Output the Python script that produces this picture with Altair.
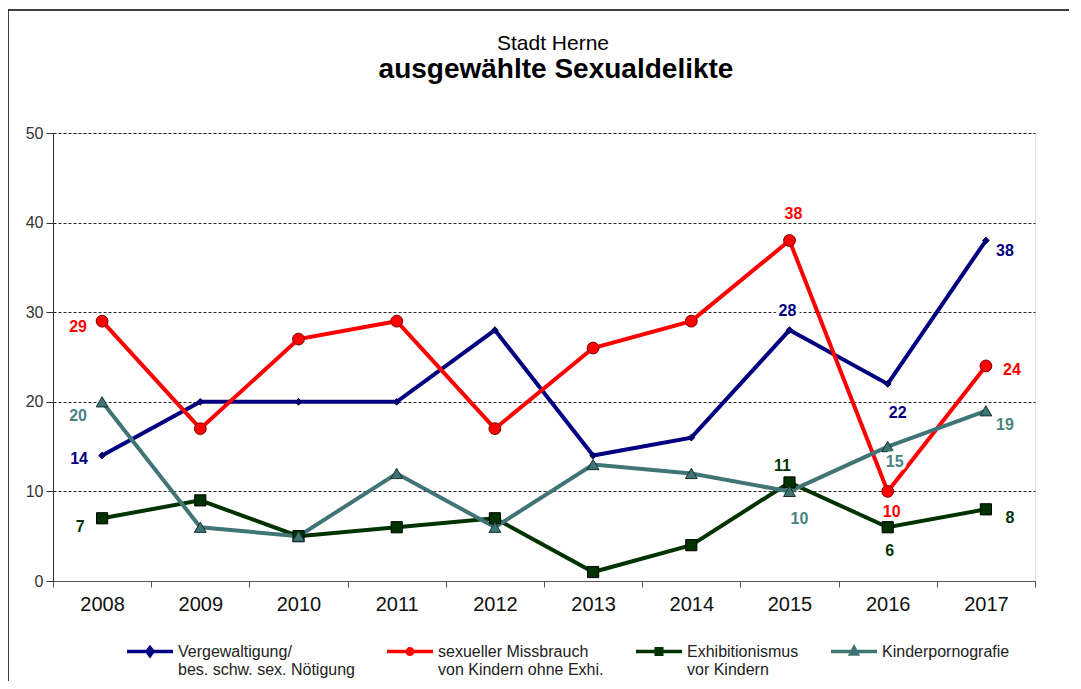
import altair as alt
import pandas as pd

# ---------------- data ----------------
years = ["2008", "2009", "2010", "2011", "2012", "2013", "2014", "2015", "2016", "2017"]
series = [
    "Vergewaltigung/|bes. schw. sex. Nötigung",
    "sexueller Missbrauch|von Kindern ohne Exhi.",
    "Exhibitionismus|vor Kindern",
    "Kinderpornografie",
]
vergewaltigung = [14, 20, 20, 20, 28, 14, 16, 28, 22, 38]
missbrauch = [29, 17, 27, 29, 17, 26, 29, 38, 10, 24]
exhibitionismus = [7, 9, 5, 6, 7, 1, 4, 11, 6, 8]
kinderpornografie = [20, 6, 5, 12, 6, 13, 12, 10, 15, 19]
values = [vergewaltigung, missbrauch, exhibitionismus, kinderpornografie]

title_text = "Stadt Herne"
subtitle_text = "ausgewählte Sexualdelikte"

# labelled points (series index, year)
label_series = [0, 0, 0, 0, 1, 1, 1, 1, 2, 2, 2, 2, 3, 3, 3, 3]
label_years = ["2008", "2015", "2016", "2017"] * 4

# ---------------- styles ----------------
line_colors = ["#000080", "#FF0000", "#003300", "#417575"]
marker_fill = ["#000080", "#FF0000", "#003300", "#3F7474"]
marker_stroke = ["#000040", "#7A0000", "#000000", "#163030"]
marker_shape = ["diamond", "circle", "square", "triangle-up"]
marker_size = [45, 140, 125, 140]
text_colors = ["#000080", "#FF0000", "#003300", "#4A8282"]
label_dx = [-23, -2, 10, 19, -24, 4, 4, 26, -22, -7, 2, 24, -24, 10, 7, 19]
label_dy = [3, -19, 29, 10, 6, -27, 21, 4, 9, -16, 24, 9, 14, 28, 15, 14]

# legend symbols: a line with a small marker (svg paths in [-1, 1], shifted down)
SH = 0.33
legend_paths = [
    f"M-1,{SH}H1M0,{SH-0.17}L0.13,{SH}L0,{SH+0.17}L-0.13,{SH}Z",
    f"M-1,{SH}H1M-0.12,{SH}A0.12,0.12 0 1,0 0.12,{SH}A0.12,0.12 0 1,0 -0.12,{SH}Z",
    f"M-1,{SH}H1M-0.12,{SH-0.12}H0.12V{SH+0.12}H-0.12Z",
    f"M-1,{SH}H1M0,{SH-0.17}L0.14,{SH+0.1}H-0.14Z",
]

FONT = "Liberation Sans"
LEG_X, LEG_Y = 72, 486

rows = []
for s, vals in zip(series, values):
    for y, v in zip(years, vals):
        rows.append({"serie": s, "jahr": y, "wert": v})
df = pd.DataFrame(rows)
one_row = pd.DataFrame([{"k": 0}])

xenc = alt.X(
    "jahr:O",
    sort=years,
    scale=alt.Scale(type="band", paddingInner=0, paddingOuter=0),
    axis=alt.Axis(
        title=None, labelAngle=0, tickBand="extent", tickSize=6, labelPadding=7,
        labelFontSize=20, labelColor="#111", labelFont=FONT, domainColor="#555",
        tickColor="#555", grid=False,
    ),
)
yenc = alt.Y(
    "wert:Q",
    scale=alt.Scale(domain=[0, 50], nice=False),
    axis=alt.Axis(
        title=None, values=[0, 10, 20, 30, 40, 50], tickSize=7, labelPadding=3,
        labelFontSize=16, labelColor="#333", labelFont=FONT, domainColor="#333",
        tickColor="#333", grid=True, gridDash=[3, 2], gridColor="#000",
        gridOpacity=0.85, gridWidth=1,
    ),
)

LEG = alt.Legend(
    title=None, orient="none", legendX=LEG_X, legendY=LEG_Y, columns=4,
    columnPadding=25,
    labelExpr="indexof(datum.label, '|') >= 0 ? split(datum.label, '|') : [datum.label, ' ']",
    labelFont=FONT, labelFontSize=16, labelLimit=400, labelBaseline="top",
    labelColor="#222", labelOffset=3, symbolSize=2116, symbolStrokeWidth=3.5,
    symbolOpacity=1,
)

color_scale = alt.Scale(domain=series, range=line_colors)

lines = alt.Chart(df).mark_line(strokeWidth=4).encode(
    x=xenc,
    y=yenc,
    color=alt.Color("serie:N", scale=color_scale, legend=LEG),
)

point_layers = []
for i, s in enumerate(series):
    point_layers.append(
        alt.Chart(df).transform_filter(alt.datum.serie == s).mark_point(
            shape=marker_shape[i], filled=True, fill=marker_fill[i], stroke=marker_stroke[i],
            strokeWidth=1, size=marker_size[i], opacity=1,
        ).encode(x=alt.X("jahr:O", sort=years), y="wert:Q")
    )

legend_layer = alt.Chart(df).mark_point(filled=False, opacity=0).encode(
    x=alt.X("jahr:O", sort=years),
    y="wert:Q",
    color=alt.Color("serie:N", scale=color_scale, legend=LEG),
    shape=alt.Shape("serie:N", scale=alt.Scale(domain=series, range=legend_paths), legend=LEG),
)

halo_layers = []
text_layers = []
for i, (si, yr) in enumerate(zip(label_series, label_years)):
    v = values[si][years.index(yr)]
    one = pd.DataFrame([{"jahr": yr, "wert": v}])
    enc = dict(x=alt.X("jahr:O", sort=years), y="wert:Q", text="wert:Q")
    halo_layers.append(
        alt.Chart(one).mark_text(
            dx=label_dx[i], dy=label_dy[i], font=FONT, fontSize=16, fontWeight="bold",
            color="white", stroke="white", strokeWidth=7, baseline="middle",
        ).encode(**enc)
    )
    text_layers.append(
        alt.Chart(one).mark_text(
            dx=label_dx[i], dy=label_dy[i], font=FONT, fontSize=16, fontWeight="bold",
            color=text_colors[si], baseline="middle",
        ).encode(**enc)
    )

frame = alt.Chart(one_row).mark_rect(fill=None, stroke="#000", strokeWidth=1.5, clip=False).encode(
    x=alt.value(-45), x2=alt.value(1100), y=alt.value(-123), y2=alt.value(700)
)

title1 = alt.Chart(one_row).mark_text(
    text=title_text, font=FONT, fontSize=21, color="#000", baseline="alphabetic", align="center"
).encode(x=alt.value(500), y=alt.value(-83))
title2 = alt.Chart(one_row).mark_text(
    text=subtitle_text, font=FONT, fontSize=28, fontWeight="bold", color="#000",
    baseline="alphabetic", align="center",
).encode(x=alt.value(503), y=alt.value(-55))

chart = alt.layer(
    frame, title1, title2, lines, *point_layers, legend_layer, *halo_layers, *text_layers
).properties(
    width=982,
    height=448,
    autosize=alt.AutoSizeParams(type="none"),
    padding={"left": 45, "top": 125, "right": 34, "bottom": 100},
).configure_view(stroke="#222", strokeWidth=1).configure(background="white")

chart.save("out.html", embed_options={"renderer": "svg", "actions": False})
